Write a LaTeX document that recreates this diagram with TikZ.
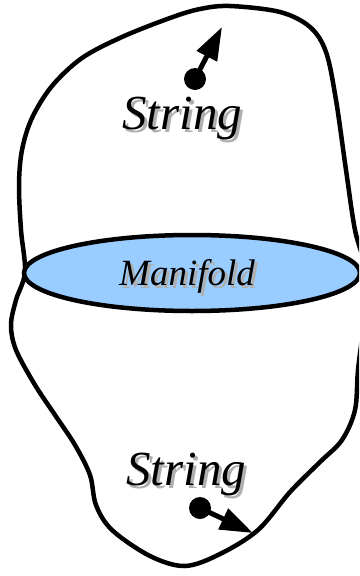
\documentclass[tikz,border=0pt]{standalone}
\usepackage{fontspec}
\setmainfont{Liberation Serif}
\usetikzlibrary{arrows.meta,shapes.geometric}
\definecolor{mfblue}{RGB}{153,204,255}
\definecolor{shadowgray}{RGB}{175,175,175}
\newcommand{\shadowed}[1]{\makebox[0pt][l]{\hspace{3pt}\raisebox{-3pt}{\textcolor{shadowgray}{#1}}}#1}
\tikzset{
  outline/.style={line width=4.5pt, line join=round},
  mfold/.style={draw=black, line width=4.5pt, fill=mfblue},
  bigtxt/.style={inner sep=0pt, anchor=base west, font=\fontsize{49}{49}\selectfont\itshape},
  midtxt/.style={inner sep=0pt, anchor=base west, font=\fontsize{37}{37}\selectfont\itshape},
  dotnode/.style={circle, fill=black, inner sep=0pt, minimum size=22pt},
  vec/.style={line width=5pt, -{Triangle[length=33pt,width=22pt]}},
}
\begin{document}
\begin{tikzpicture}[x=1pt,y=-1pt]
\useasboundingbox (0,0) rectangle (359,576);
\clip (0,0) rectangle (359,576);
% outer surface
\draw[outline] plot[smooth cycle, tension=0.55] coordinates {
  (25,272) (21,230) (19,185) (22,150) (32,118) (52,86) (82,58) (122,37)
  (170,18) (200,9) (230,6) (280,12) (310,27) (326,52) (336,100)
  (346,170) (355,230) (366,272)
  (364,320) (358,370) (355,410) (342,440) (320,462) (290,492)
  (258,530) (220,554) (185,566) (150,556) (112,530) (96,505)
  (90,475) (75,445) (55,415) (35,385) (16,350) (11,325) (16,300)
};
% manifold
\node[mfold, ellipse, minimum width=336pt, minimum height=76pt, inner sep=0pt] (mf) at (192,273) {};
% texts
\node[midtxt] (mflab) at (119,285) {\shadowed{Manifold}};
\node[bigtxt] (s1) at (122,129) {\shadowed{String}};
\node[bigtxt] (s2) at (126,485) {\shadowed{String}};
% string points and vectors
\node[dotnode] (d1) at (195,79) {};
\coordinate (t1) at (222,27);
\draw[vec] (d1.center) -- (t1);
\node[dotnode] (d2) at (200,508) {};
\coordinate (t2) at (253,533);
\draw[vec] (d2.center) -- (t2);
\end{tikzpicture}
\end{document}
